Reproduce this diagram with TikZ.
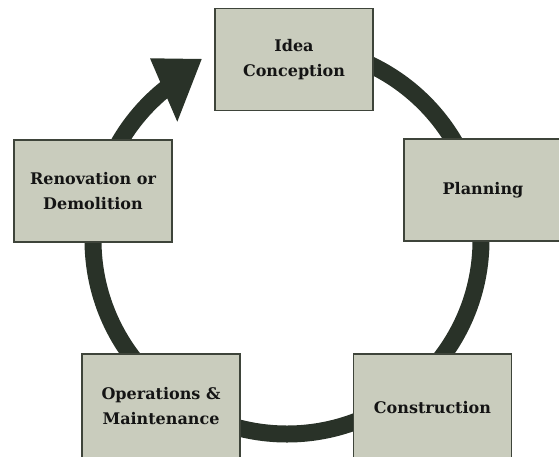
\documentclass[tikz,border=0pt]{standalone}
\usepackage{fontspec}
\usetikzlibrary{calc}
\setmainfont{DejaVu Serif}
\definecolor{boxfill}{RGB}{201,204,189}
\definecolor{boxline}{RGB}{62,68,58}
\definecolor{ring}{RGB}{41,50,40}
\definecolor{txt}{RGB}{20,20,20}
\begin{document}
\begin{tikzpicture}[x=1pt,y=-1pt,
  stage/.style={draw=boxline, line width=1.4pt, fill=boxfill,
    minimum width=158pt, minimum height=102pt, inner sep=0pt,
    align=center, text=txt, font=\bfseries\fontsize{16}{24.5}\selectfont}]
\useasboundingbox (0,0) rectangle (559,456);
% ring
\coordinate (c) at (287,240);
\draw[ring, line width=17pt] ($(c)+(-90:194)$) arc[start angle=-90, end angle=232, radius=194];
\fill[ring] (150,58.3) -- (201.7,59) -- (177.3,121.7) -- cycle;
% stages
\node[stage] (idea) at (294,59.5) {Idea\\Conception};
\node[stage] (plan) at (483,190) {Planning};
\node[stage, minimum height=108pt] (cons) at (432.5,408) {Construction};
\node[stage, minimum height=104pt] (ops) at (161,406) {Operations \&\\Maintenance};
\node[stage] (reno) at (93,191) {Renovation or\\Demolition};
\end{tikzpicture}
\end{document}
